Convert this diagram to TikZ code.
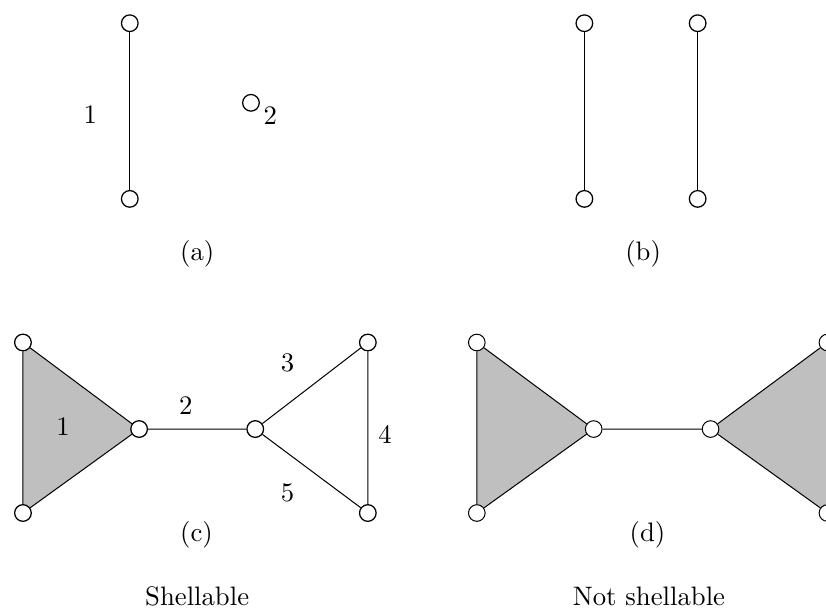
\documentclass[tikz,border=0pt]{standalone}
\usetikzlibrary{backgrounds}
\begin{document}
\begin{tikzpicture}[line width=.5pt,
    every node/.style={font=\fontsize{10.6}{12.7}\selectfont},
    vert/.style={circle,draw,fill=white,inner sep=0pt,minimum size=6.6pt},
    face/.style={fill=gray!50}]
    \useasboundingbox (0,0) rectangle (11.52,8.494);
    % (a)
    \node[vert] (a1) at (1.81,8.17) {};
    \node[vert] (a2) at (1.81,5.72) {};
    \node[vert] (a3) at (3.50,7.06) {};
    \draw (a1) -- (a2);
    \node (la1) at (1.26,6.89) {1};
    \node (la2) at (3.77,6.88) {2};
    \node (capa) at (2.75,4.95) {(a)};
    % (b)
    \node[vert] (b1) at (8.15,8.17) {};
    \node[vert] (b2) at (8.15,5.72) {};
    \node[vert] (b3) at (9.73,8.17) {};
    \node[vert] (b4) at (9.73,5.72) {};
    \draw (b1) -- (b2) (b3) -- (b4);
    \node (capb) at (8.97,4.95) {(b)};
    % (c)
    \node[vert] (c1) at (0.32,3.717) {};
    \node[vert] (c2) at (0.32,1.339) {};
    \node[vert] (c3) at (1.94,2.51) {};
    \node[vert] (c4) at (3.56,2.51) {};
    \node[vert] (c5) at (5.13,3.717) {};
    \node[vert] (c6) at (5.13,1.339) {};
    \begin{pgfonlayer}{background}
        \fill[face] (c1.center) -- (c2.center) -- (c3.center) -- cycle;
    \end{pgfonlayer}
    \draw (c1) -- (c2) -- (c3) -- (c1)
        (c3) -- (c4) -- (c5) -- (c6) -- (c4);
    \node (lc1) at (0.88,2.54) {1};
    \node (lc2) at (2.59,2.83) {2};
    \node (lc3) at (4.01,3.435) {3};
    \node (lc4) at (5.37,2.43) {4};
    \node (lc5) at (4.01,1.62) {5};
    \node (capc) at (2.74,1.03) {(c)};
    \node (namec) at (2.75,0.18) {Shellable};
    % (d)
    \node[vert] (d1) at (6.65,3.717) {};
    \node[vert] (d2) at (6.65,1.339) {};
    \node[vert] (d3) at (8.28,2.51) {};
    \node[vert] (d4) at (9.91,2.51) {};
    \node[vert] (d5) at (11.54,3.717) {};
    \node[vert] (d6) at (11.54,1.339) {};
    \begin{pgfonlayer}{background}
        \fill[face] (d1.center) -- (d2.center) -- (d3.center) -- cycle;
        \fill[face] (d4.center) -- (d5.center) -- (d6.center) -- cycle;
    \end{pgfonlayer}
    \draw (d1) -- (d2) -- (d3) -- (d1)
        (d3) -- (d4) -- (d5) -- (d6) -- (d4);
    \node (capd) at (9.03,1.03) {(d)};
    \node (named) at (9.05,0.18) {Not shellable};
\end{tikzpicture}
\end{document}
